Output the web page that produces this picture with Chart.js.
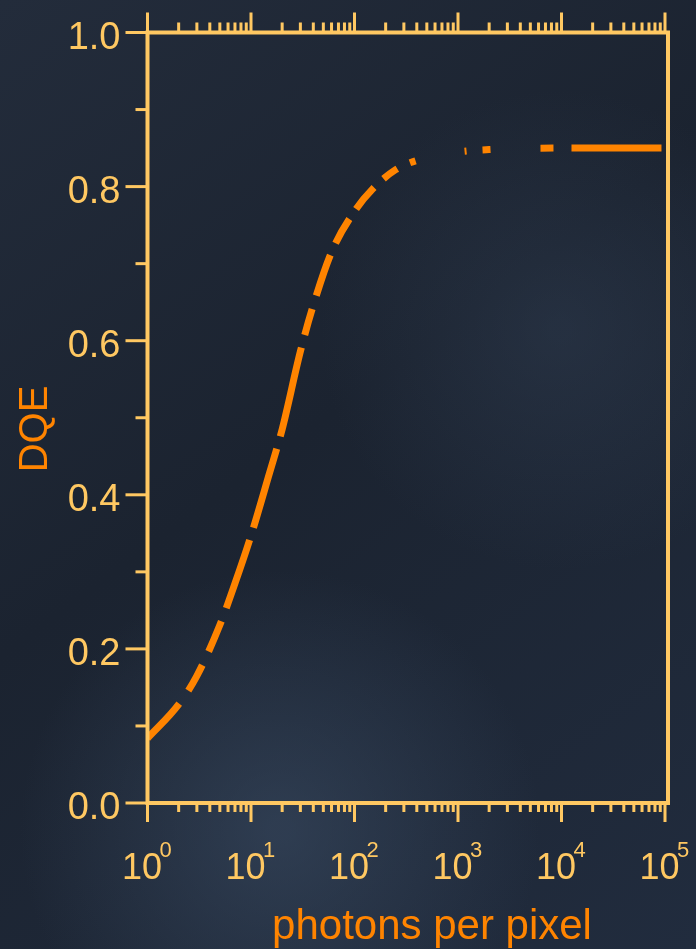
<!DOCTYPE html>
<html lang="en">
<head>
    <meta charset="UTF-8">
    <title>DQE vs photons per pixel</title>
    <script src="https://cdn.jsdelivr.net/npm/chart.js"></script>
    <style>
        html, body { margin: 0; padding: 0; background: #1e2634; }
        #wrap { width: 696px; height: 949px; position: relative; }
    </style>
</head>
<body>
    <div id="wrap"><canvas id="dqeChart"></canvas></div>

    <script>
        // values
        const photons = [1, 2, 3, 5, 7, 10, 15, 20, 30, 40, 60, 100, 150, 250, 400, 1000, 2000, 10000, 100000];
        const dqe = [0.084, 0.128, 0.165, 0.231, 0.285, 0.347, 0.427, 0.485, 0.586, 0.646, 0.715, 0.768, 0.797, 0.822, 0.834, 0.845, 0.848, 0.850, 0.850];
        const xExponents = [0, 1, 2, 3, 4, 5];
        const minorSteps = [2, 3, 4, 5, 6, 7, 8, 9];

        const axisColor = '#ffc862';
        const orange = '#ff8400';
        const fontFamily = '"Liberation Sans", Arial, sans-serif';

        // irregular dash lengths measured along the curve
        const dashPattern = [47, 16, 29, 15, 33, 14, 72, 13, 82, 13, 91, 13, 27, 14, 43, 13, 28, 12, 28, 13, 17, 14, 6, 50, 2, 16, 8, 50, 13, 18, 90, 40];

        const backdrop = {
            id: 'backdrop',
            beforeDraw(chart) {
                const { ctx, width, height } = chart;
                ctx.save();
                let g = ctx.createLinearGradient(0, 0, width, height);
                g.addColorStop(0, '#232c3b');
                g.addColorStop(0.45, '#1b2330');
                g.addColorStop(1, '#212c3e');
                ctx.fillStyle = g;
                ctx.fillRect(0, 0, width, height);
                let r = ctx.createRadialGradient(280, 830, 10, 280, 830, 260);
                r.addColorStop(0, 'rgba(60,78,102,0.55)');
                r.addColorStop(1, 'rgba(60,78,102,0)');
                ctx.fillStyle = r;
                ctx.fillRect(0, 0, width, height);
                r = ctx.createRadialGradient(560, 330, 10, 560, 330, 240);
                r.addColorStop(0, 'rgba(55,70,92,0.35)');
                r.addColorStop(1, 'rgba(55,70,92,0)');
                ctx.fillStyle = r;
                ctx.fillRect(0, 0, width, height);
                ctx.restore();
            }
        };

        const frameAndTicks = {
            id: 'frameAndTicks',
            afterDraw(chart) {
                const { ctx, chartArea: a, scales: { x, y } } = chart;
                ctx.save();
                ctx.strokeStyle = axisColor;
                ctx.lineCap = 'butt';

                // box
                ctx.lineWidth = 4;
                ctx.strokeRect(a.left, a.top, a.right + 3 - a.left, a.bottom - a.top);

                // x ticks, bottom (down) and top (up)
                ctx.lineWidth = 3;
                const xTick = (v, len) => {
                    const px = x.getPixelForValue(v);
                    ctx.beginPath();
                    ctx.moveTo(px, a.bottom);
                    ctx.lineTo(px, a.bottom + len);
                    ctx.moveTo(px, a.top);
                    ctx.lineTo(px, a.top - len - 1);
                    ctx.stroke();
                };
                xExponents.forEach(e => {
                    xTick(Math.pow(10, e), 19);
                    if (e < xExponents[xExponents.length - 1]) {
                        minorSteps.forEach(m => xTick(m * Math.pow(10, e), 9));
                    }
                });

                // y ticks (left)
                y.ticks.forEach(t => {
                    const py = y.getPixelForValue(t.value);
                    const major = Math.round(t.value * 10) % 2 === 0;
                    ctx.beginPath();
                    ctx.moveTo(a.left, py);
                    ctx.lineTo(a.left - (major ? 22 : 12), py);
                    ctx.stroke();
                });

                // x tick labels 10^n
                ctx.fillStyle = axisColor;
                ctx.textAlign = 'left';
                ctx.textBaseline = 'alphabetic';
                xExponents.forEach(e => {
                    const px = x.getPixelForValue(Math.pow(10, e));
                    ctx.font = '36px ' + fontFamily;
                    ctx.fillText('10', px - 25.5, 879);
                    ctx.font = '22px ' + fontFamily;
                    ctx.fillText(String(e), px + 12, 857);
                });

                // axis titles
                ctx.fillStyle = orange;
                ctx.font = '42px ' + fontFamily;
                ctx.textAlign = 'center';
                ctx.fillText('photons per pixel', 432, 938.5);

                ctx.translate(46.5, 429);
                ctx.rotate(-Math.PI / 2);
                ctx.font = '40px ' + fontFamily;
                ctx.fillText('DQE', 0, 0);
                ctx.restore();
            }
        };

        const ctx = document.getElementById('dqeChart').getContext('2d');
        const dqeChart = new Chart(ctx, {
            type: 'line',
            data: {
                datasets: [{
                    label: 'DQE',
                    data: photons.map((p, i) => ({ x: p, y: dqe[i] })),
                    borderColor: orange,
                    borderWidth: 7,
                    borderDash: dashPattern,
                    borderCapStyle: 'butt',
                    cubicInterpolationMode: 'monotone',
                    pointRadius: 0,
                    fill: false
                }]
            },
            options: {
                responsive: true,
                maintainAspectRatio: false,
                animation: false,
                layout: { padding: { top: 32.5, right: 31, bottom: 0, left: 0 } },
                plugins: {
                    legend: { display: false },
                    tooltip: { enabled: false }
                },
                scales: {
                    x: {
                        type: 'logarithmic',
                        min: 1,
                        max: 100000,
                        grid: { display: false, drawTicks: false },
                        border: { display: false },
                        ticks: { display: false },
                        afterFit(scale) {
                            scale.height = 146;
                            scale.paddingLeft = 0;
                            scale.paddingRight = 0;
                        }
                    },
                    y: {
                        min: 0,
                        max: 1,
                        grid: { display: false, drawTicks: false },
                        border: { display: false },
                        ticks: {
                            stepSize: 0.1,
                            autoSkip: false,
                            padding: 27,
                            labelOffset: 6,
                            color: axisColor,
                            font: { size: 38, family: fontFamily },
                            callback: v => Math.round(v * 10) % 2 === 0 ? v.toFixed(1) : ''
                        },
                        afterFit(scale) {
                            scale.width = 147.5;
                            scale.paddingTop = 0;
                            scale.paddingBottom = 0;
                        }
                    }
                }
            },
            plugins: [backdrop, frameAndTicks]
        });
    </script>
</body>
</html>
